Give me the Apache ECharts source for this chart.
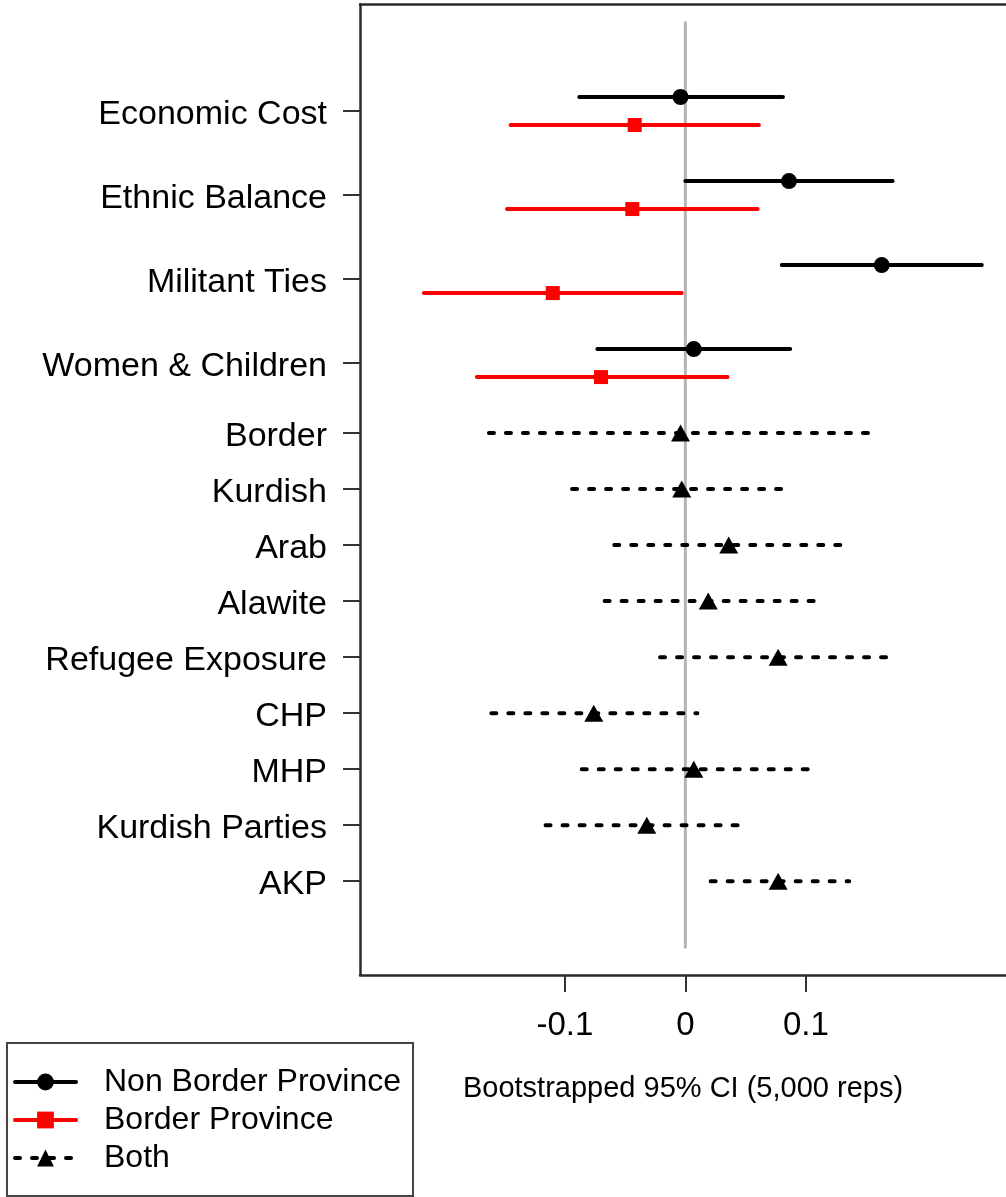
<!DOCTYPE html>
<html>
<head>
<meta charset="utf-8">
<title>Bootstrapped 95% CI</title>
<script src="https://cdn.jsdelivr.net/npm/echarts@6/dist/echarts.min.js"></script>
<style>
  html, body { margin: 0; padding: 0; background: #fff; }
  #main { width: 1006px; height: 1197px; }
</style>
</head>
<body>
<div id="main"></div>
<script>
// row labels and their positions on the y scale (top to bottom)
var rowLabels = ["Economic Cost", "Ethnic Balance", "Militant Ties", "Women & Children",
  "Border", "Kurdish", "Arab", "Alawite", "Refugee Exposure", "CHP", "MHP",
  "Kurdish Parties", "AKP"];
var rowPos = [4, 7, 10, 13, 15.5, 17.5, 19.5, 21.5, 23.5, 25.5, 27.5, 29.5, 31.5];

// first four rows: split by province type
var nonBorderEst = [-0.004, 0.086, 0.163, 0.007];
var nonBorderLo = [-0.088, 0.000, 0.080, -0.073];
var nonBorderHi = [0.081, 0.172, 0.246, 0.087];

var borderEst = [-0.042, -0.044, -0.110, -0.070];
var borderLo = [-0.145, -0.148, -0.217, -0.173];
var borderHi = [0.061, 0.060, -0.003, 0.035];

// remaining rows: both together
var bothEst = [-0.004, -0.003, 0.036, 0.019, 0.077, -0.076, 0.007, -0.032, 0.077];
var bothLo = [-0.163, -0.094, -0.059, -0.067, -0.021, -0.161, -0.086, -0.116, 0.021];
var bothHi = [0.159, 0.089, 0.133, 0.108, 0.174, 0.010, 0.103, 0.053, 0.136];

var xTicks = [-0.1, 0, 0.1];
var zeroLineSpan = [0.8, 33.9];

// R draws the row labels a touch below the tick
var labelShift = 0.12;
var labelPos = rowPos.map(function (p) { return p + labelShift; });

var myChart = echarts.init(document.getElementById("main"));

// one line series per interval, marker only on the estimate
function ciSeries(name, lo, est, hi, posList, shift, color, symbol, size, dashed) {
  var list = [];
  for (var i = 0; i < est.length; i++) {
    var y = posList[i] + shift;
    list.push({
      name: name,
      type: "line",
      silent: true,
      symbol: symbol,
      symbolSize: size,
      showSymbol: true,
      color: color,
      itemStyle: { color: color },
      lineStyle: {
        color: color,
        width: 4,
        cap: "round",
        type: dashed ? [5, 12] : "solid",
      },
      data: [
        { value: [lo[i], y], symbol: "none" },
        { value: [est[i], y] },
        { value: [hi[i], y], symbol: "none" },
      ],
      z: 3,
    });
  }
  return list;
}

var series = [
  {
    name: "zero",
    type: "line",
    silent: true,
    symbol: "none",
    lineStyle: { color: "#b4b4b4", width: 3 },
    data: [[0, zeroLineSpan[0]], [0, zeroLineSpan[1]]],
    z: 1,
  },
];
series = series
  .concat(ciSeries("Non Border Province", nonBorderLo, nonBorderEst, nonBorderHi,
    rowPos.slice(0, 4), -0.5, "#000000", "circle", 16, false))
  .concat(ciSeries("Border Province", borderLo, borderEst, borderHi,
    rowPos.slice(0, 4), 0.5, "#ff0000", "rect", 14, false))
  .concat(ciSeries("Both", bothLo, bothEst, bothHi,
    rowPos.slice(4), 0, "#000000", "triangle", [19, 17], true));

var font = "'Liberation Sans', Arial, Helvetica, sans-serif";
var frame = { color: "#2a2a2a", width: 2.5 };

var option = {
  animation: false,
  textStyle: { fontFamily: font },
  grid: {
    left: 360,
    top: 4.6,
    right: 0,
    bottom: 222,
    show: false,
  },
  legend: {
    data: ["Non Border Province", "Border Province", "Both"],
    orient: "vertical",
    left: 7,
    top: 1043,
    padding: [23, 12, 22, 6],
    itemWidth: 61,
    itemHeight: 21,
    itemGap: 6,
    borderColor: "#444",
    borderWidth: 2,
    selectedMode: false,
    lineStyle: { width: 4, cap: "round" },
    textStyle: {
      fontSize: 32,
      color: "#000",
      fontFamily: font,
      padding: [0, 0, 0, 23],
    },
  },
  xAxis: [
    {
      type: "value",
      min: -0.27,
      max: 0.2661,
      splitLine: { show: false },
      axisLine: { show: true, onZero: false, lineStyle: frame },
      axisTick: {
        customValues: xTicks,
        length: 17,
        lineStyle: { color: "#333", width: 2 },
      },
      axisLabel: {
        customValues: xTicks,
        margin: 34,
        fontSize: 33,
        color: "#000",
        fontFamily: font,
        formatter: function (v) {
          return v === 0 ? "0" : String(v);
        },
      },
      name: "Bootstrapped 95% CI (5,000 reps)",
      nameLocation: "middle",
      nameGap: 99,
      nameTextStyle: { fontSize: 29, color: "#000", fontFamily: font },
    },
    {
      // top frame line only
      type: "value",
      position: "top",
      min: -0.27,
      max: 0.2661,
      splitLine: { show: false },
      axisLine: { show: true, onZero: false, lineStyle: frame },
      axisTick: { show: false },
      axisLabel: { show: false },
    },
  ],
  yAxis: {
    type: "value",
    inverse: true,
    min: 0.2,
    max: 34.85,
    splitLine: { show: false },
    axisLine: { show: true, onZero: false, lineStyle: frame },
    axisTick: {
      customValues: rowPos,
      length: 17,
      lineStyle: { color: "#333", width: 2 },
    },
    axisLabel: {
      customValues: labelPos,
      margin: 33,
      fontSize: 34,
      color: "#000",
      fontFamily: font,
      formatter: function (v) {
        var i = labelPos.indexOf(v);
        return i >= 0 ? rowLabels[i] : "";
      },
    },
  },
  series: series,
};

myChart.setOption(option);
window.addEventListener("resize", function () {
  myChart.resize();
});
</script>
</body>
</html>
